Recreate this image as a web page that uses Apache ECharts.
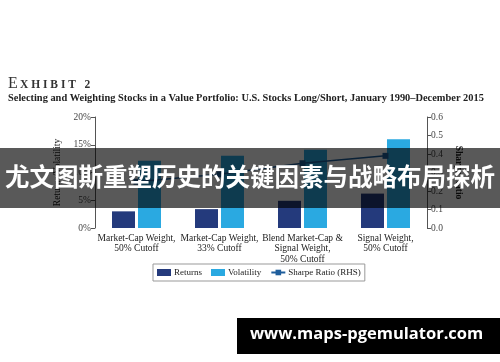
<!DOCTYPE html>
<html><head><meta charset="utf-8">
<script src="https://cdn.jsdelivr.net/npm/echarts@6/dist/echarts.min.js"></script>
<style>html,body{margin:0;padding:0;background:#fff}#c{width:500px;height:362px}</style>
</head><body><div id="c"></div>
<script>
const categories = ['Market-Cap Weight,\n50% Cutoff', 'Market-Cap Weight,\n33% Cutoff', 'Blend Market-Cap &\nSignal Weight,\n50% Cutoff', 'Signal Weight,\n50% Cutoff'];
const returns = [3.0, 3.4, 4.9, 6.2];
const volatility = [12.1, 13.0, 14.1, 16.0];
const sharpe = [0.25, 0.29, 0.35, 0.39];
const leftTicks = {min: 0, max: 20, interval: 5};
const rightTicks = {min: 0, max: 0.6, interval: 0.1};
const bannerText = '尤文图斯重塑历史的关键因素与战略布局探析';
const watermark = 'www.maps-pgemulator.com';

const serif = '"Liberation Serif", "DejaVu Serif", serif';
const chart = echarts.init(document.getElementById('c'));
chart.setOption({
  animation: false,
  backgroundColor: '#fff',
  textStyle: {fontFamily: serif},
  grid: {left: 95, right: 73, top: 117, bottom: 134},
  legend: {
    top: 264, left: 153,
    itemWidth: 14, itemHeight: 7, itemGap: 9,
    padding: [4, 4], borderColor: '#999', borderWidth: 1,
    textStyle: {fontFamily: serif, fontSize: 9, color: '#222', padding: [0, 0, 0, -2]},
    data: [{name: 'Returns', icon: 'rect'}, {name: 'Volatility', icon: 'rect'}, {name: 'Sharpe Ratio (RHS)'}]
  },
  xAxis: {
    type: 'category', data: categories,
    axisLine: {show: false}, axisTick: {show: false},
    axisLabel: {fontFamily: serif, fontSize: 9.5, color: '#222', lineHeight: 10.5, margin: 5, interval: 0}
  },
  yAxis: [{
    type: 'value', min: leftTicks.min, max: leftTicks.max, interval: leftTicks.interval,
    name: 'Returns/Volatility', nameLocation: 'middle', nameGap: 26,
    nameTextStyle: {fontFamily: serif, fontSize: 9.5, color: '#222'},
    axisLine: {show: true, lineStyle: {color: '#555', width: 1}},
    axisTick: {show: true, length: 4, lineStyle: {color: '#555'}},
    splitLine: {show: false},
    axisLabel: {formatter: '{value}%', fontFamily: serif, fontSize: 9.5, color: '#444', margin: 4}
  }, {
    type: 'value', min: rightTicks.min, max: rightTicks.max, interval: rightTicks.interval,
    name: 'Sharpe Ratio', nameLocation: 'middle', nameGap: 24, nameRotate: -90,
    nameTextStyle: {fontFamily: serif, fontSize: 9.5, color: '#222', fontWeight: 'bold'},
    axisLine: {show: true, lineStyle: {color: '#555', width: 1}},
    axisTick: {show: true, length: 4, lineStyle: {color: '#555'}},
    splitLine: {show: false},
    axisLabel: {formatter: v => v.toFixed(1), fontFamily: serif, fontSize: 9.5, color: '#444', margin: 4}
  }],
  series: [{
    name: 'Returns', type: 'bar', data: returns, barWidth: 23, barGap: '13%',
    itemStyle: {color: '#243a7c'}
  }, {
    name: 'Volatility', type: 'bar', data: volatility, barWidth: 23,
    itemStyle: {color: '#2aa9e1'}
  }, {
    name: 'Sharpe Ratio (RHS)', type: 'line', yAxisIndex: 1, data: sharpe,
    symbol: 'rect', symbolSize: 6,
    lineStyle: {color: '#1f5e9c', width: 1.5}, itemStyle: {color: '#1f5e9c'}
  }],
  graphic: [
    {type: 'text', left: 8, top: 76, style: {text: 'E', font: '16px ' + serif, fill: '#333'}},
    {type: 'text', left: 20, top: 79, style: {text: 'X H I B I T   2', font: 'bold 11.5px ' + serif, fill: '#333'}},
    {type: 'text', left: 8, top: 93, style: {text: 'Selecting and Weighting Stocks in a Value Portfolio: U.S. Stocks Long/Short, January 1990\u2013December 2015', font: 'bold 10.4px ' + serif, fill: '#222'}},
    {type: 'rect', z: 100, shape: {x: 0, y: 148, width: 500, height: 60}, style: {fill: 'rgba(0,0,0,0.65)'}},
    {type: 'text', z: 101, left: 'center', top: 164, style: {text: bannerText, font: 'bold 24.5px "Noto Sans CJK SC", sans-serif', fill: '#fff'}},
    {type: 'rect', z: 100, shape: {x: 237, y: 318, width: 263, height: 36}, style: {fill: '#000'}},
    {type: 'text', z: 101, left: 250, top: 326, style: {text: watermark, font: 'bold 16.5px "Open Sans", "DejaVu Sans", sans-serif', fill: '#fff'}}
  ]
});
</script></body></html>
